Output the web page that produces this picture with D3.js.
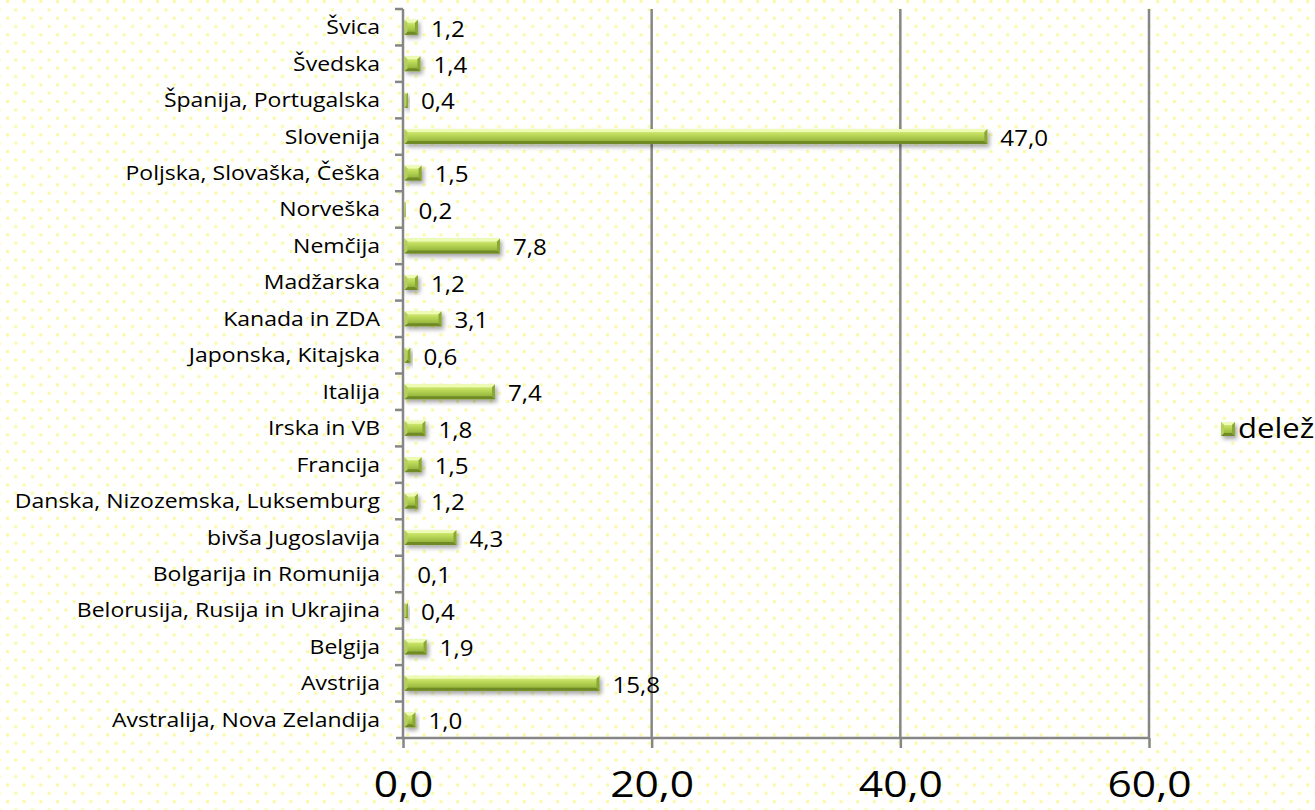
<!DOCTYPE html>
<html>
<head>
<meta charset="utf-8">
<script src="https://cdn.jsdelivr.net/npm/d3@7"></script>
<style>
  body { margin: 0; background: #fff; }
  svg { display: block; }
  text { font-family: "Open Sans", sans-serif; fill: #000; }
</style>
</head>
<body>
<div id="chart"></div>
<script>
var categories = [
    'Švica', 'Švedska', 'Španija, Portugalska', 'Slovenija',
    'Poljska, Slovaška, Češka', 'Norveška', 'Nemčija', 'Madžarska',
    'Kanada in ZDA', 'Japonska, Kitajska', 'Italija', 'Irska in VB',
    'Francija', 'Danska, Nizozemska, Luksemburg', 'bivša Jugoslavija',
    'Bolgarija in Romunija', 'Belorusija, Rusija in Ukrajina', 'Belgija',
    'Avstrija', 'Avstralija, Nova Zelandija'
];
var delez = [1.2, 1.4, 0.4, 47.0, 1.5, 0.2, 7.8, 1.2, 3.1, 0.6, 7.4, 1.8, 1.5, 1.2, 4.3, 0.1, 0.4, 1.9, 15.8, 1.0];
var xTicks = [0, 20, 40, 60];
var seriesName = 'delež';

var W = 1315, H = 810;
var margin = { left: 403, right: 166, top: 9, bottom: 72 };
var stretch = 1.15; // the original text looks slightly widened

var fmt = function (d) { return d3.format('.1f')(d).replace('.', ','); };

var svg = d3.select('#chart').append('svg')
    .attr('width', W)
    .attr('height', H);

var defs = svg.append('defs');

// dotted page background
var pat = defs.append('pattern')
    .attr('id', 'dots')
    .attr('patternUnits', 'userSpaceOnUse')
    .attr('x', 6).attr('y', 0)
    .attr('width', 16.67).attr('height', 16.67);
pat.append('rect').attr('x', 0).attr('y', 0).attr('width', 3).attr('height', 3).attr('fill', '#f9f9a6');
pat.append('rect').attr('x', 8.33).attr('y', 8.33).attr('width', 3).attr('height', 3).attr('fill', '#f9f9a6');

var grad = defs.append('linearGradient')
    .attr('id', 'barGrad')
    .attr('x1', 0).attr('y1', 0).attr('x2', 0).attr('y2', 1);
[['0%', '#e2f594'], ['35%', '#c0dc5c'], ['70%', '#9fbf44'], ['100%', '#84a130']].forEach(function (s) {
    grad.append('stop').attr('offset', s[0]).attr('stop-color', s[1]);
});

var shadow = defs.append('filter')
    .attr('id', 'shadow')
    .attr('x', '-20%').attr('y', '-50%')
    .attr('width', '160%').attr('height', '250%');
shadow.append('feDropShadow')
    .attr('dx', 2).attr('dy', 3)
    .attr('stdDeviation', 2)
    .attr('flood-color', '#000')
    .attr('flood-opacity', 0.35);

svg.append('rect')
    .attr('width', W).attr('height', H)
    .attr('fill', 'url(#dots)');

var x = d3.scaleLinear()
    .domain([0, 60])
    .range([margin.left, W - margin.right]);

var y = d3.scaleBand()
    .domain(categories)
    .range([margin.top, H - margin.bottom]);

// vertical gridlines
svg.append('g')
    .selectAll('line')
    .data(xTicks.slice(1))
    .join('line')
    .attr('x1', function (d) { return x(d); })
    .attr('x2', function (d) { return x(d); })
    .attr('y1', margin.top)
    .attr('y2', H - margin.bottom)
    .attr('stroke', '#868686')
    .attr('stroke-width', 2.5);

// bottom axis
var xAxis = svg.append('g')
    .attr('transform', 'translate(0,' + (H - margin.bottom) + ')')
    .call(d3.axisBottom(x)
        .tickValues(xTicks)
        .tickSize(10)
        .tickPadding(20)
        .tickFormat(fmt));
xAxis.select('.domain').attr('stroke', '#868686').attr('stroke-width', 2.5)
    .attr('d', 'M' + (margin.left - 7) + ',0H' + x(60));
xAxis.selectAll('.tick line').attr('stroke', '#868686').attr('stroke-width', 2.5);
xAxis.selectAll('.tick text')
    .style('font-family', '"Open Sans", sans-serif')
    .attr('font-size', 37)
    .attr('fill', '#000')
    .attr('y', 0)
    .attr('dy', 0)
    .attr('transform', 'translate(0,59) scale(1.15,1)');

// bars
function bevelBar(g, x0, x1, yTop, h) {
    var w = x1 - x0;
    var b = Math.min(3, w / 2);
    g.append('rect')
        .attr('x', x0).attr('y', yTop)
        .attr('width', w).attr('height', h)
        .attr('fill', 'url(#barGrad)');
    // top highlight
    g.append('path')
        .attr('d', 'M' + x0 + ',' + yTop + 'H' + x1 + 'L' + (x1 - b) + ',' + (yTop + b) + 'H' + (x0 + b) + 'Z')
        .attr('fill', '#eefbb4');
    // bottom edge
    g.append('path')
        .attr('d', 'M' + x0 + ',' + (yTop + h) + 'H' + x1 + 'L' + (x1 - b) + ',' + (yTop + h - b) + 'H' + (x0 + b) + 'Z')
        .attr('fill', '#6f8a27');
    // right end
    g.append('path')
        .attr('d', 'M' + x1 + ',' + yTop + 'V' + (yTop + h) + 'L' + (x1 - b) + ',' + (yTop + h - b) + 'V' + (yTop + b) + 'Z')
        .attr('fill', '#8aa836');
    // left end
    g.append('path')
        .attr('d', 'M' + x0 + ',' + yTop + 'V' + (yTop + h) + 'L' + (x0 + b) + ',' + (yTop + h - b) + 'V' + (yTop + b) + 'Z')
        .attr('fill', '#b5d15a');
}

var barH = 15;
var bars = svg.append('g');
categories.forEach(function (c, i) {
    var g = bars.append('g').attr('filter', 'url(#shadow)');
    var yc = y(c) + y.bandwidth() / 2;
    bevelBar(g, x(0) + 1.5, x(delez[i]), yc - barH / 2, barH);
});

// left axis
var yAxis = svg.append('g')
    .attr('transform', 'translate(' + x(0) + ',0)');
yAxis.append('line')
    .attr('y1', margin.top).attr('y2', H - margin.bottom)
    .attr('stroke', '#868686').attr('stroke-width', 2.5);
yAxis.selectAll('line.tk')
    .data(categories)
    .join('line')
    .attr('class', 'tk')
    .attr('x1', -8).attr('x2', 0)
    .attr('y1', function (d) { return y(d); })
    .attr('y2', function (d) { return y(d); })
    .attr('stroke', '#868686').attr('stroke-width', 2.5);

// category labels
svg.append('g')
    .selectAll('text')
    .data(categories)
    .join('text')
    .attr('transform', function (d) {
        return 'translate(380,' + (y(d) + y.bandwidth() / 2) + ') scale(' + stretch + ',1)';
    })
    .attr('dy', '0.35em')
    .attr('text-anchor', 'end')
    .attr('font-size', 20)
    .text(function (d) { return d; });

// value labels
svg.append('g')
    .selectAll('text')
    .data(delez)
    .join('text')
    .attr('transform', function (d, i) {
        return 'translate(' + (x(d) + 13) + ',' + (y(categories[i]) + y.bandwidth() / 2 + 2) + ') scale(' + stretch + ',1)';
    })
    .attr('dy', '0.35em')
    .attr('font-size', 21)
    .text(fmt);

// legend
var lg = svg.append('g');
var lgG = lg.append('g').attr('filter', 'url(#shadow)');
bevelBar(lgG, 1221, 1235, 422, 14);
lg.append('text')
    .attr('transform', 'translate(1238,429) scale(' + stretch + ',1)')
    .attr('dy', '0.35em')
    .attr('font-size', 27)
    .text(seriesName);
</script>
</body>
</html>
